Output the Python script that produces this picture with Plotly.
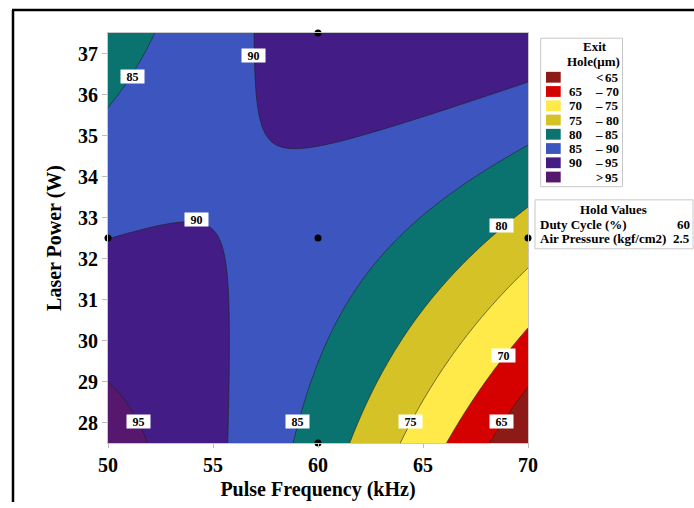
import numpy as np
import plotly.graph_objects as go

# ---- data -------------------------------------------------------------
# Points traced along each contour boundary (Pulse Frequency kHz, Laser Power W)
c95_x = [50.0, 50.88, 51.85]
c95_y = [28.99, 28.53, 27.5]
c90_x = [50.0, 51.99, 54.22, 54.84, 55.56, 55.77, 55.72,
         56.92, 56.92, 57.15, 57.55, 58.66, 62.3, 66.27, 70.0]
c90_y = [32.5, 32.7, 32.94, 32.8, 32.12, 31.0, 27.5,
         37.5, 37.0, 35.4, 34.84, 34.6, 35.08, 35.68, 36.28]
c85_x = [50.0, 51.19, 52.23, 58.82, 59.78, 61.05, 63.43, 66.1, 70.0]
c85_y = [35.68, 36.44, 37.5, 27.5, 29.09, 30.44, 32.28, 33.48, 34.73]
c80_x = [61.5, 62.48, 64.55, 65.5, 67.57, 70.0]
c80_y = [27.5, 28.85, 30.44, 31.08, 32.28, 33.3]
c75_x = [63.9, 65.95, 67.72, 68.5, 70.0]
c75_y = [27.5, 29.3, 30.44, 31.09, 31.8]
c70_x = [66.06, 68.0, 70.0]
c70_y = [27.5, 28.93, 30.29]
c65_x = [68.15, 70.0]
c65_y = [27.5, 28.81]

traced = {95: (c95_x, c95_y), 90: (c90_x, c90_y), 85: (c85_x, c85_y),
          80: (c80_x, c80_y), 75: (c75_x, c75_y), 70: (c70_x, c70_y),
          65: (c65_x, c65_y)}

# Design points of the experiment
design_x = [60, 50, 60, 70, 60]
design_y = [37.5, 32.5, 32.5, 32.5, 27.5]

# In-plot contour labels
label_x = [56.92, 51.19, 54.22, 68.73, 68.84, 51.43, 59.01, 64.39, 68.76]
label_y = [36.96, 36.44, 32.94, 32.81, 29.63, 28.02, 28.02, 28.02, 28.03]
label_val = [90, 85, 90, 80, 70, 95, 85, 75, 65]

# Legend bands
band_colors = ["#8E1A17", "#D50000", "#FFEA4A", "#D4C226",
               "#0B736F", "#3D56BF", "#431C85", "#56186F"]
band_lo = ["", "65", "70", "75", "80", "85", "90", ""]
band_sym = ["<", "–", "–", "–", "–", "–", "–", ">"]
band_hi = ["65", "70", "75", "80", "85", "90", "95", "95"]

hold_names = ["Duty Cycle (%)", "Air Pressure (kgf/cm2)"]
hold_vals = ["60", "2.5"]

# ---- second-order response surface fitted to the traced contours -------
def coded(x, y):
    return (np.asarray(x) - 60.0) / 10.0, (np.asarray(y) - 32.5) / 5.0

def terms(u, v):
    return np.column_stack([np.ones_like(u), u, v, u * u, v * v, u * v])

px, py, pz = [], [], []
for lev, (xs, ys) in traced.items():
    px += xs
    py += ys
    pz += [lev] * len(xs)
u, v = coded(px, py)
coef, *_ = np.linalg.lstsq(terms(u, v), np.array(pz, float), rcond=None)

gx = np.linspace(50, 70, 241)
gy = np.linspace(27.5, 37.5, 241)
GX, GY = np.meshgrid(gx, gy)
GU, GV = coded(GX.ravel(), GY.ravel())
Z = (terms(GU, GV) @ coef).reshape(GX.shape)

# stepwise colour scale, one flat band per 5 µm interval from 60 to 100
nb = len(band_colors)
cscale = []
for i, c in enumerate(band_colors):
    cscale.append([i / nb, c])
    cscale.append([(i + 1) / nb, c])

SERIF = "Liberation Serif"

fig = go.Figure()
fig.add_trace(go.Contour(
    x=gx, y=gy, z=Z,
    autocontour=False,
    contours=dict(start=65, end=95, size=5, coloring="fill", showlabels=False),
    colorscale=cscale, zmin=60, zmax=100, showscale=False,
    line=dict(color="#1e1e1e", width=0.6, smoothing=1),
    hoverinfo="skip",
))
fig.add_trace(go.Scatter(
    x=design_x, y=design_y, mode="markers",
    marker=dict(color="black", size=7), cliponaxis=False, hoverinfo="skip",
))

# ---- layout -------------------------------------------------------------
L, R, T, B = 108, 166, 33, 58
W, H = 694, 508
PW, PH = W - L - R, H - T - B

def pxx(p):
    return (p - L) / PW

def pxy(p):
    return (H - B - p) / PH

annotations = []
for x, y, val in zip(label_x, label_y, label_val):
    annotations.append(dict(
        x=x, y=y, xref="x", yref="y", text=str(val), showarrow=False,
        xanchor="center", yanchor="middle",
        bgcolor="white", width=23, height=13, borderpad=0,
        font=dict(family=SERIF, size=12, color="black", weight="bold"),
    ))

lfont = dict(family=SERIF, size=13, color="black", weight="bold")

def note(xp, yp, text, anchor="center"):
    annotations.append(dict(x=pxx(xp), y=pxy(yp), xref="paper", yref="paper",
                            text=text, showarrow=False, xanchor=anchor,
                            yanchor="middle", font=lfont))

note(595, 46.7, "Exit")
note(593.5, 62.3, "Hole(μm)")

shapes = []
row0, drow = 78.0, 14.5
for i, c in enumerate(band_colors):
    cy = row0 + i * drow
    shapes.append(dict(type="rect", xref="paper", yref="paper",
                       x0=pxx(546), x1=pxx(560.7), y0=pxy(cy - 5.5), y1=pxy(cy + 5.5),
                       fillcolor=c, line=dict(width=0)))
    if band_lo[i]:
        note(566.5, cy, band_lo[i], "left")
    note(599, cy, band_sym[i])
    note(620.5, cy, band_hi[i], "right")

# legend frame
shapes.append(dict(type="rect", xref="paper", yref="paper",
                   x0=pxx(540.7), x1=pxx(622.5), y0=pxy(189.3), y1=pxy(38.3),
                   line=dict(color="#C8C8C8", width=1)))

# hold values box
shapes.append(dict(type="rect", xref="paper", yref="paper",
                   x0=pxx(535), x1=pxx(693), y0=pxy(252.5), y1=pxy(202.7),
                   line=dict(color="#C8C8C8", width=1)))
note(613, 212.7, "Hold Values")
for k, (name, val) in enumerate(zip(hold_names, hold_vals)):
    yy = 227.7 + k * 14.0
    note(538, yy, name, "left")
    note(691.5, yy, val, "right")

# outer frame (left and top edges)
shapes.append(dict(type="line", xref="paper", yref="paper",
                   x0=pxx(13), x1=pxx(13), y0=pxy(9.5), y1=pxy(510),
                   line=dict(color="black", width=2.5)))
shapes.append(dict(type="line", xref="paper", yref="paper",
                   x0=pxx(12), x1=pxx(700), y0=pxy(9.5), y1=pxy(9.5),
                   line=dict(color="black", width=2.5)))

tickfont = dict(family=SERIF, size=20, color="black", weight="bold")
titlefont = dict(family=SERIF, size=20, color="black", weight="bold")

fig.update_layout(
    width=W, height=H,
    margin=dict(l=L, r=R, t=T, b=B, pad=0),
    paper_bgcolor="white", plot_bgcolor="white",
    showlegend=False,
    annotations=annotations, shapes=shapes,
    xaxis=dict(range=[50, 70], tickvals=[50, 55, 60, 65, 70],
               ticks="outside", ticklen=4, tickcolor="#BDBDBD",
               showline=True, linecolor="#C8C8C8", linewidth=1, mirror=True,
               showgrid=False, zeroline=False, tickfont=tickfont,
               title=dict(text="Pulse Frequency (kHz)", font=titlefont, standoff=6)),
    yaxis=dict(range=[27.5, 37.5], tickvals=list(range(28, 38)),
               ticks="outside", ticklen=5, tickcolor="#BDBDBD",
               showline=True, linecolor="#C8C8C8", linewidth=1, mirror=True,
               showgrid=False, zeroline=False, tickfont=tickfont,
               title=dict(text="Laser Power (W)", font=titlefont, standoff=11)),
)

fig.write_html("out.html")
